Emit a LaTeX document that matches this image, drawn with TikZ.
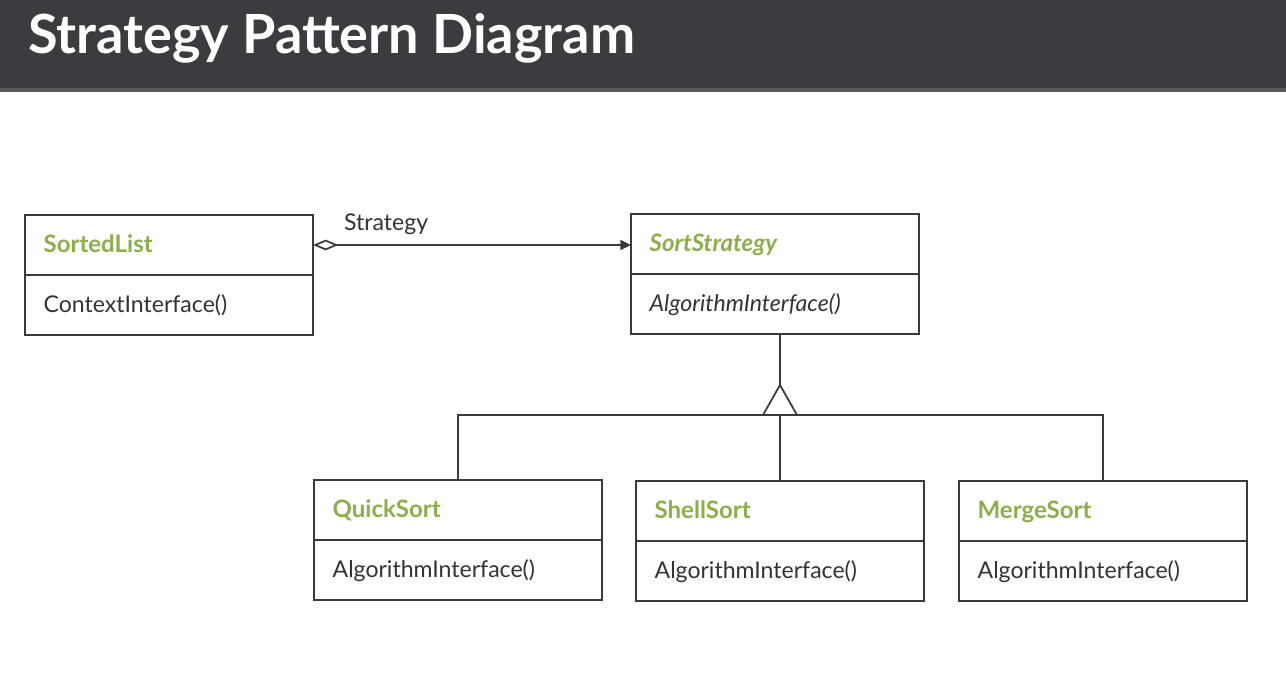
\documentclass[tikz,border=0pt]{standalone}
\usepackage{fontspec}
\setmainfont{Lato}
\usetikzlibrary{arrows.meta}
\definecolor{barcolor}{HTML}{3C3B40}
\definecolor{baredge}{HTML}{5A595E}
\definecolor{classgreen}{HTML}{8DAE4A}
\definecolor{umlline}{HTML}{3A3A3A}
\definecolor{optext}{HTML}{333333}
\tikzset{
  classhead/.style={draw=umlline, line width=1.3pt, outer sep=0pt, anchor=north west,
    minimum width=216pt, minimum height=45pt, text width=188pt, inner xsep=14pt,
    align=left, text height=15pt, text depth=4pt, text=classgreen,
    font=\fontsize{18}{21}\selectfont\bfseries},
  classop/.style={classhead, text=optext, font=\fontsize{17.3}{21}\selectfont},
  umlconn/.style={draw=umlline, line width=1.3pt}
}
\begin{document}
\begin{tikzpicture}[x=0.75pt, y=-0.75pt]
  \useasboundingbox (0,0) rectangle (1286,678);
  \fill[baredge] (0,0) rectangle (1286,92);
  \fill[barcolor] (0,0) rectangle (1286,88);
  \node[anchor=base west, inner sep=0pt, text=white, font=\fontsize{40.5}{46}\selectfont\bfseries] (title) at (28,53) {Strategy Pattern Diagram};
  % context and strategy
  \node[classhead] (sortedlist) at (25,215) {SortedList};
  \node[classop] (sortedlistop) at (sortedlist.south west) {ContextInterface()};
  \node[classhead] (sortstrategy) at (631,214) {\itshape SortStrategy};
  \node[classop] (sortstrategyop) at (sortstrategy.south west) {\itshape AlgorithmInterface()};
  % concrete strategies
  \node[classhead] (quicksort) at (314,480) {QuickSort};
  \node[classop] (quicksortop) at (quicksort.south west) {AlgorithmInterface()};
  \node[classhead] (shellsort) at (636,481) {ShellSort};
  \node[classop] (shellsortop) at (shellsort.south west) {AlgorithmInterface()};
  \node[classhead] (mergesort) at (959,481) {MergeSort};
  \node[classop] (mergesortop) at (mergesort.south west) {AlgorithmInterface()};
  % aggregation
  \draw[umlconn, {Diamond[open, length=19pt, width=8pt]}-{Triangle[length=8pt, width=7.5pt]}]
    (sortedlist.east) -- node[pos=0.23, above=4pt, text=optext, font=\fontsize{17.3}{21}\selectfont] (strategylabel) {Strategy} (sortedlist.east -| sortstrategy.west);
  % generalization
  \coordinate (hub) at (780,415);
  \coordinate (apex) at (780,385);
  \draw[umlconn] (sortstrategyop.south -| apex) -- (apex);
  \draw[umlconn] (quicksort.north) |- (hub) -| (mergesort.north);
  \draw[umlconn] (hub) -- (shellsort.north -| hub);
  \draw[umlconn, fill=white] ([shift={(-17,0)}]hub) -- (apex) -- ([shift={(17,0)}]hub) -- cycle;
\end{tikzpicture}
\end{document}
